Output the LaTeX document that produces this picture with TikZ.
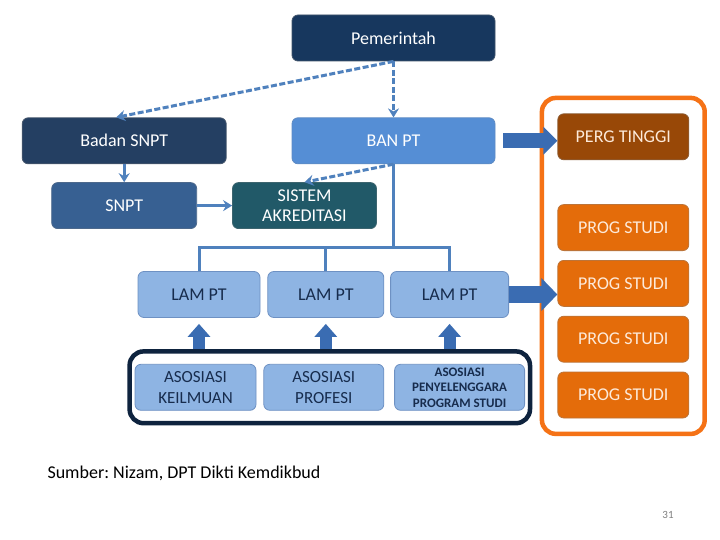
\documentclass[tikz,border=0pt]{standalone}
\usepackage{fontspec}
\setmainfont{Carlito}
\frenchspacing
\usetikzlibrary{
  arrows.meta, % for Stealth and Triangle arrow tips
  fit, % to fit the frames around the groups of boxes
  positioning % for relative positioning of the boxes
}
\definecolor{pemblue}{RGB}{23,55,94}
\definecolor{badanblue}{RGB}{36,63,98}
\definecolor{banblue}{RGB}{85,142,213}
\definecolor{snptblue}{RGB}{55,96,146}
\definecolor{akrteal}{RGB}{33,89,104}
\definecolor{lamblue}{RGB}{142,180,227}
\definecolor{lamline}{RGB}{110,145,195}
\definecolor{lamtext}{RGB}{23,44,77}
\definecolor{pergbrown}{RGB}{152,72,7}
\definecolor{progorange}{RGB}{228,108,10}
\definecolor{progtext}{RGB}{253,234,218}
\definecolor{frameorange}{RGB}{245,114,22}
\definecolor{framenavy}{RGB}{14,35,62}
\definecolor{connblue}{RGB}{79,129,189}
\definecolor{arrowblue}{RGB}{58,108,178}
\tikzset{
  box/.style={ % style for every box
    rectangle,rounded corners=6pt, % drawn as a rounded rectangle
    draw,line width=0.8pt, % with a thin border
    inner sep=1pt, % little padding, the minimum size does the rest
    minimum height=46pt, % all boxes are equally high
    align=center, % for the two line labels
    font=\fontsize{18}{20}\selectfont,
  },
  darkbox/.style={ % white text on a dark fill
    box,
    text=white,
  },
  palebox/.style={ % the light blue boxes
    box,
    fill=lamblue,draw=lamline,
    text=lamtext,
  },
  progbox/.style={ % the boxes in the orange frame
    box,
    fill=progorange,draw=progorange!60!gray,
    text=progtext,
    minimum width=131pt,
    node distance=9pt, % spacing between the boxes
  },
  frame/.style={ % style for the groups of boxes
    rectangle,draw,line width=4.5pt, % drawn as a thick rectangle
    rounded corners=14pt,
  },
  conn/.style={ % style for the connections
    -{Stealth[length=9pt,width=11pt,inset=3pt]},
    line width=3pt,draw=connblue,
  },
  dashconn/.style={ % dashed connections
    conn,
    dash pattern=on 6pt off 2.5pt,
  },
  wire/.style={ % plain lines to the LAM PT boxes
    line width=3pt,draw=connblue,
  },
  bigconn/.style={ % block arrows to the right
    line width=#1,draw=arrowblue,
  },
  upconn/.style={ % block arrows pointing up
    line width=12pt,draw=arrowblue,
    -{Triangle[length=13pt,width=22pt]},
    shorten >=6pt,
  },
}
\begin{document}
\begin{tikzpicture}[x=1pt,y=-1pt]
\useasboundingbox (0,0) rectangle (720,540);
\fill[white] (0,0) rectangle (720,540);
\node[darkbox, fill=pemblue, draw=pemblue!60!gray, minimum width=203pt] (pem) at (393.5,38) {Pemerintah};
\node[darkbox, fill=banblue, draw=banblue!80!gray, minimum width=203pt, below=56pt of pem] (ban) {BAN PT};
\node[darkbox, fill=badanblue, draw=badanblue!60!gray, minimum width=204pt, left=65pt of ban] (badan) {Badan SNPT};
\node[darkbox, fill=snptblue, draw=snptblue!70!gray, minimum width=145pt, below=18pt of badan] (snpt) {SNPT};
\node[darkbox, fill=akrteal, draw=akrteal!70!gray, minimum width=144pt, right=35pt of snpt] (sistem) {SISTEM\\AKREDITASI};
\node[palebox, minimum width=122pt] (lam1) at (199,294.5) {LAM PT};
\node[palebox, minimum width=116pt, right=7pt of lam1] (lam2) {LAM PT};
\node[palebox, minimum width=118pt, right=6pt of lam2] (lam3) {LAM PT};
\node[palebox, minimum width=121pt, below=46pt of lam1, xshift=-3.5pt, font=\fontsize{17}{20.5}\selectfont] (asos1) {ASOSIASI\\KEILMUAN};
\node[palebox, minimum width=120pt, right=7pt of asos1, font=\fontsize{17}{20.5}\selectfont] (asos2) {ASOSIASI\\PROFESI};
\node[palebox, minimum width=130pt, right=10pt of asos2, font=\bfseries\fontsize{13}{15.5}\selectfont] (asos3) {ASOSIASI\\PENYELENGGARA\\PROGRAM STUDI};
\node[progbox, fill=pergbrown, draw=pergbrown!60!gray, right=62pt of ban, yshift=4pt] (perg) {PERG TINGGI};
\node[progbox, below=44pt of perg] (prog1) {PROG STUDI};
\node[progbox, below=of prog1] (prog2) {PROG STUDI};
\node[progbox, below=of prog2] (prog3) {PROG STUDI};
\node[progbox, below=of prog3] (prog4) {PROG STUDI};
\node[frame, draw=frameorange, inner sep=15.5pt, fit=(perg)(prog4)] (progframe) {};
\node[frame, draw=framenavy, inner xsep=5pt, inner ysep=12.5pt, fit=(asos1)(asos3)] (asosframe) {};
\draw[dashconn] (pem.south) -- ([xshift=-8pt]badan.north);
\draw[dashconn] (pem.south) -- (ban.north);
\draw[conn] (badan.south) -- (snpt.north);
\draw[conn] (snpt.east) -- (sistem.west);
\draw[dashconn] (ban.south) -- (sistem.north);
\coordinate[yshift=-83pt] (bus) at (ban.south);
\draw[wire] (ban.south) -- (bus);
\draw[wire] (lam1.north) |- (bus) -| (lam3.north);
\draw[wire] (lam2.north) -- (lam2.north |- bus);
\draw[bigconn=15pt, -{Triangle[length=14pt,width=27pt]}, shorten <=8pt] (ban.east) -- (ban.east -| perg.west);
\draw[bigconn=17pt, -{Triangle[length=16pt,width=32pt]}] (lam3.east) -- (lam3.east -| prog2.west);
\draw[upconn] (asosframe.north -| lam1.south) -- (lam1.south);
\draw[upconn] (asosframe.north -| lam2.south) -- (lam2.south);
\draw[upconn] (asosframe.north -| lam3.south) -- (lam3.south);
\node[anchor=west, font=\fontsize{18}{20}\selectfont] (source) at (44,473) {Sumber: Nizam, DPT Dikti Kemdikbud};
\node[text=gray, font=\fontsize{11}{12}\selectfont] (pageno) at (668,515) {31};
\end{tikzpicture}
\end{document}
